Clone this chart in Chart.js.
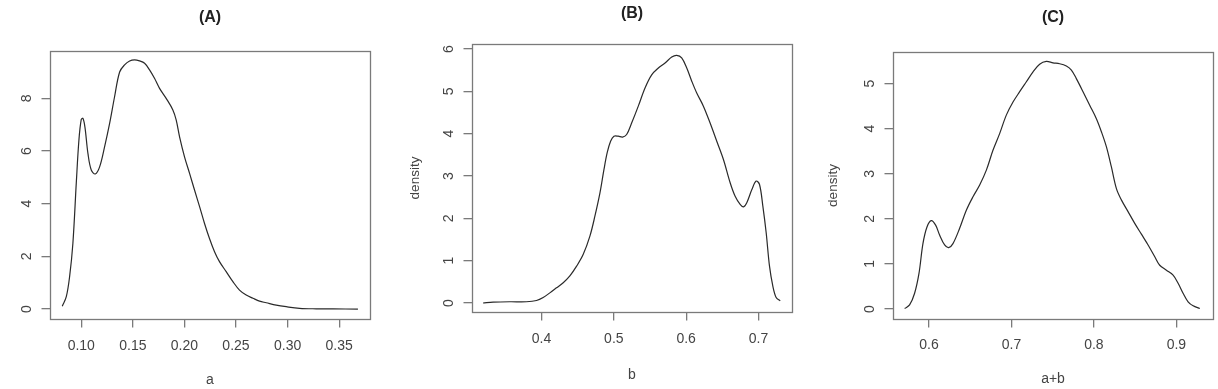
<!DOCTYPE html>
<html>
<head>
<meta charset="utf-8">
<script src="https://cdn.jsdelivr.net/npm/chart.js@4/dist/chart.umd.min.js"></script>
<style>
  html, body { margin: 0; padding: 0; background: #ffffff; }
  #wrap { position: relative; width: 1218px; height: 389px; overflow: hidden; background: #fff; }
  canvas { position: absolute; top: 0; }
</style>
</head>
<body>
<div id="wrap">
  <canvas id="cA" width="400" height="389" style="left:0px"></canvas>
  <canvas id="cB" width="400" height="389" style="left:400px"></canvas>
  <canvas id="cC" width="418" height="389" style="left:800px"></canvas>
</div>
<script>
// ---------- Panel (A): density of a ----------
const titleA = '(A)';
const xLabelA = 'a';
const yLabelA = '';
const aX = [0.0816,0.0855,0.0887,0.0919,0.0952,0.0977,0.1000,0.1016,0.1036,0.1065,0.1097,0.1136,0.1178,0.1226,0.1275,0.1323,0.1372,0.1420,0.1469,0.1517,0.1565,0.1614,0.1662,0.1710,0.1759,0.1823,0.1888,0.1920,0.1953,0.2001,0.2050,0.2098,0.2147,0.2195,0.2243,0.2292,0.2340,0.2405,0.2470,0.2534,0.2599,0.2664,0.2728,0.2793,0.2890,0.2987,0.3116,0.3278,0.3440,0.3682];
const aY = [0.11,0.47,1.23,2.50,4.80,6.40,7.20,7.24,6.90,5.90,5.28,5.13,5.40,6.16,7.05,8.06,9.00,9.27,9.42,9.46,9.42,9.33,9.08,8.76,8.38,8.00,7.56,7.18,6.54,5.78,5.15,4.52,3.89,3.25,2.68,2.18,1.80,1.42,1.04,0.72,0.53,0.41,0.30,0.24,0.15,0.09,0.03,0.01,0.005,0.0];
const xTicksA = [0.10,0.15,0.20,0.25,0.30,0.35];
const xTickLabelsA = ['0.10','0.15','0.20','0.25','0.30','0.35'];
const yTicksA = [0,2,4,6,8];

// ---------- Panel (B): density of b ----------
const titleB = '(B)';
const xLabelB = 'b';
const yLabelB = 'density';
const bX = [0.3192,0.3331,0.3562,0.3792,0.3931,0.4023,0.4115,0.4208,0.4300,0.4392,0.4485,0.4577,0.4669,0.4738,0.4808,0.4863,0.4908,0.4955,0.5001,0.5061,0.5120,0.5177,0.5246,0.5338,0.5431,0.5523,0.5615,0.5708,0.5800,0.5869,0.5938,0.6008,0.6077,0.6146,0.6238,0.6331,0.6423,0.6515,0.6608,0.6677,0.6746,0.6792,0.6838,0.6908,0.6968,0.7014,0.7060,0.7106,0.7152,0.7198,0.7244,0.7300];
const bY = [0.00,0.02,0.03,0.03,0.06,0.13,0.24,0.36,0.48,0.64,0.87,1.15,1.58,2.05,2.60,3.15,3.55,3.82,3.94,3.94,3.92,3.98,4.25,4.65,5.08,5.39,5.55,5.67,5.81,5.85,5.79,5.55,5.24,4.96,4.65,4.25,3.82,3.39,2.84,2.52,2.33,2.27,2.37,2.68,2.88,2.80,2.29,1.66,0.87,0.40,0.13,0.05];
const xTicksB = [0.4,0.5,0.6,0.7];
const xTickLabelsB = ['0.4','0.5','0.6','0.7'];
const yTicksB = [0,1,2,3,4,5,6];

// ---------- Panel (C): density of a+b ----------
const titleC = '(C)';
const xLabelC = 'a+b';
const yLabelC = 'density';
const cX = [0.5705,0.5765,0.5826,0.5879,0.5927,0.5976,0.6028,0.6081,0.6129,0.6190,0.6239,0.6291,0.6372,0.6453,0.6534,0.6615,0.6696,0.6776,0.6857,0.6938,0.7019,0.7100,0.7181,0.7262,0.7342,0.7423,0.7504,0.7585,0.7666,0.7727,0.7787,0.7868,0.7949,0.8030,0.8091,0.8151,0.8212,0.8273,0.8333,0.8414,0.8495,0.8576,0.8657,0.8738,0.8798,0.8879,0.8960,0.9021,0.9081,0.9142,0.9203,0.9284];
const cY = [0.01,0.09,0.35,0.79,1.45,1.82,1.96,1.86,1.64,1.42,1.36,1.45,1.79,2.19,2.49,2.75,3.08,3.52,3.89,4.30,4.59,4.82,5.04,5.26,5.43,5.49,5.46,5.44,5.39,5.30,5.11,4.82,4.52,4.22,3.93,3.60,3.15,2.67,2.42,2.16,1.90,1.66,1.42,1.16,0.97,0.86,0.75,0.57,0.35,0.16,0.07,0.01];
const xTicksC = [0.6,0.7,0.8,0.9];
const xTickLabelsC = ['0.6','0.7','0.8','0.9'];
const yTicksC = [0,1,2,3,4,5];

// ---------- drawing ----------
const FONT = "'Liberation Sans', Arial, Helvetica, sans-serif";
const TEXT = '#444444';
const AXIS = '#7a7a7a';

const framePlugin = {
  id: 'frame',
  afterDraw(chart, args, opts) {
    const { ctx, chartArea: a } = chart;
    ctx.save();
    ctx.strokeStyle = AXIS;
    ctx.lineWidth = 1.3;
    ctx.strokeRect(Math.round(a.left) + 0.5, Math.round(a.top) + 0.5,
                   Math.round(a.right - a.left), Math.round(a.bottom - a.top));
    ctx.fillStyle = '#222';
    ctx.font = 'bold 16px ' + FONT;
    ctx.textAlign = 'center';
    ctx.textBaseline = 'middle';
    ctx.fillText(opts.title, (a.left + a.right) / 2, a.top - opts.titleGap);
    ctx.restore();
  }
};

function makePanel(id, cfg) {
  const pts = cfg.xs.map((x, i) => ({ x: x, y: cfg.ys[i] }));
  return new Chart(document.getElementById(id), {
    type: 'scatter',
    data: { datasets: [{
      data: pts, showLine: true, borderColor: '#2a2a2a', borderWidth: 1.2,
      pointRadius: 0, pointHoverRadius: 0, tension: 0.35, fill: false
    }]},
    plugins: [framePlugin],
    options: {
      responsive: false, animation: false, devicePixelRatio: 1,
      layout: { padding: cfg.pad },
      plugins: {
        legend: { display: false }, tooltip: { enabled: false },
        frame: { title: cfg.title, titleGap: cfg.titleGap }
      },
      scales: {
        x: {
          type: 'linear', min: cfg.xmin, max: cfg.xmax,
          afterBuildTicks: s => { s.ticks = cfg.xTicks.map(v => ({ value: v })); },
          afterFit: s => { s.height = cfg.xh; },
          grid: { display: true, drawOnChartArea: false, drawTicks: true, tickLength: 8.5, color: AXIS, lineWidth: 1.3 },
          border: { display: false },
          ticks: {
            autoSkip: false, maxRotation: 0, minRotation: 0, padding: cfg.xpad,
            color: TEXT, font: { family: FONT, size: 14 },
            callback: (v) => { const i = cfg.xTicks.indexOf(v); return i >= 0 ? cfg.xTickLabels[i] : ''; }
          },
          title: { display: true, text: cfg.xLabel, color: TEXT, font: { family: FONT, size: 14 },
                   padding: { top: 0, bottom: cfg.xtitlePad } }
        },
        y: {
          type: 'linear', min: cfg.ymin, max: cfg.ymax,
          afterBuildTicks: s => { s.ticks = cfg.yTicks.map(v => ({ value: v })); },
          afterFit: s => { s.width = cfg.yw; },
          grid: { display: true, drawOnChartArea: false, drawTicks: true, tickLength: 8.5, color: AXIS, lineWidth: 1.3 },
          border: { display: false },
          ticks: {
            autoSkip: false, minRotation: 90, maxRotation: 90, crossAlign: 'center', padding: cfg.ypad,
            color: TEXT, font: { family: FONT, size: 14 },
            callback: (v) => String(v)
          },
          title: { display: !!cfg.yLabel, text: cfg.yLabel, color: TEXT, font: { family: FONT, size: 13.5 },
                   padding: { top: cfg.ytitlePad, bottom: 0 } }
        }
      }
    }
  });
}

makePanel('cA', {
  xs: aX, ys: aY, title: titleA, xLabel: xLabelA, yLabel: yLabelA,
  xTicks: xTicksA, xTickLabels: xTickLabelsA, yTicks: yTicksA,
  xmin: 0.0697, xmax: 0.3799, ymin: -0.377, ymax: 9.797,
  pad: { left: 0, right: 30, top: 51, bottom: 0 }, yw: 50, xh: 70,
  xpad: 10, ypad: 10, xtitlePad: 0.5, ytitlePad: 0, titleGap: 33
});
makePanel('cB', {
  xs: bX, ys: bY, title: titleB, xLabel: xLabelB, yLabel: yLabelB,
  xTicks: xTicksB, xTickLabels: xTickLabelsB, yTicks: yTicksB,
  xmin: 0.3039, xmax: 0.7463, ymin: -0.212, ymax: 6.118,
  pad: { left: 0, right: 8, top: 44, bottom: 0 }, yw: 72, xh: 77,
  xpad: 10, ypad: 10, xtitlePad: 5.5, ytitlePad: 7, titleGap: 30
});
makePanel('cC', {
  xs: cX, ys: cY, title: titleC, xLabel: xLabelC, yLabel: yLabelC,
  xTicks: xTicksC, xTickLabels: xTickLabelsC, yTicks: yTicksC,
  xmin: 0.5564, xmax: 0.9444, ymin: -0.222, ymax: 5.70,
  pad: { left: 0, right: 5, top: 52, bottom: 0 }, yw: 93, xh: 70,
  xpad: 9, ypad: 10, xtitlePad: 1.5, ytitlePad: 25, titleGap: 34
});
</script>
</body>
</html>
